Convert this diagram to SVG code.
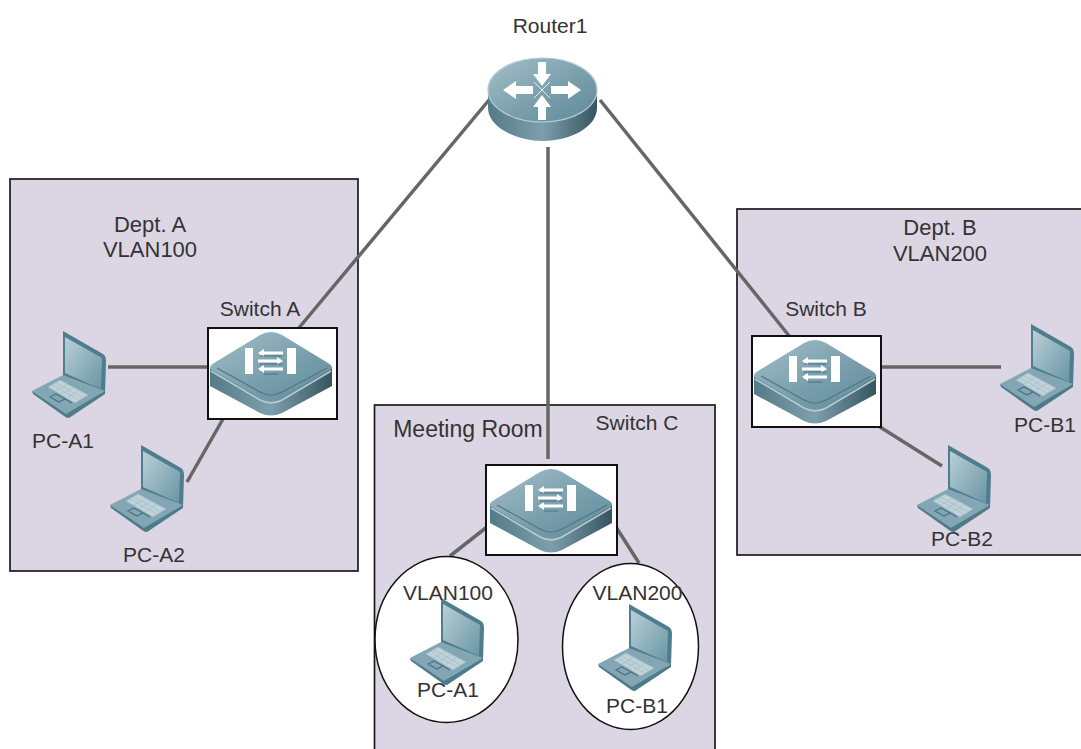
<svg xmlns="http://www.w3.org/2000/svg" width="1081" height="749" viewBox="0 0 1081 749">
<style>
text{font-family:"Liberation Sans",Arial,sans-serif;font-size:21px;fill:#333;text-anchor:middle}
.big{font-size:22px}
.area{fill:#dcd6e4;stroke:#1a1a1a;stroke-width:1.7}
.box{fill:#fff;stroke:#111;stroke-width:2}
.oval{fill:#fff;stroke:#111;stroke-width:1.5}
.link{stroke:#666;stroke-width:3.5;fill:none}
</style>
<defs>
<linearGradient id="top" x1="0" y1="0" x2="1" y2="1"><stop offset="0" stop-color="#a3bfc9"/><stop offset=".55" stop-color="#7a9fac"/><stop offset="1" stop-color="#5d8a99"/></linearGradient>
<linearGradient id="side" x1="0" y1="0" x2="1" y2="0"><stop offset="0" stop-color="#547b89"/><stop offset=".5" stop-color="#7d9fab"/><stop offset="1" stop-color="#35545f"/></linearGradient>
<linearGradient id="scr" x1="0" y1="0" x2="1" y2="1"><stop offset="0" stop-color="#b9d0d8"/><stop offset="1" stop-color="#6a95a4"/></linearGradient>
<symbol id="laptop" width="76" height="88" viewBox="0 0 76 88" overflow="visible">
<path d="M31 0 L71 23 Q74 25 74 30 L73 62 L31 47 Z" fill="#4f7d8d"/>
<path d="M33 6 L70 27 L69 58 L33 42 Z" fill="url(#scr)"/>
<path d="M0 60 L31 44 L73 60 L35 85 Z" fill="#82a6b3"/>
<path d="M0 60 L34 83 L73 60 L73 63 L37 87 Q34 87 32 85 L1 63 Z" fill="#4e7a8a"/>
<path d="M16 56 L28 49 L56 64 L43 72 Z" fill="#bfd2d9" stroke="#a3bbc4" stroke-width=".6"/>
<path d="M20 54 L47 69 M24 52 L51 67 M24 60 L36 53 M30 63 L42 56 M36 66 L48 59" stroke="#9fb8c1" stroke-width=".6" fill="none"/>
<path d="M18 66 L24 63 L33 68 L27 71 Z M27 71 L33 68 L40 72" fill="none" stroke="#4a7282" stroke-width="1.2"/>
</symbol>
<symbol id="switch" width="130" height="90" viewBox="0 0 130 90" overflow="visible">
<path d="M2 40 L2 58 L52 85 Q63 90 74 85 L124 58 L124 40 Z" fill="url(#side)"/>
<path d="M2 41 Q1 38 6 35 L52 7 Q63 1 74 7 L120 35 Q125 38 124 41 L74 70 Q63 76 52 70 Z" fill="url(#top)"/>
<path d="M3 43 L52 72 Q63 78 74 72 L123 43" fill="none" stroke="#b7ccd3" stroke-width="1.5"/>
<path d="M9 40 L52 64 Q63 70 74 64 L119 40" fill="none" stroke="#4d7888" stroke-width="1.2"/>
<rect x="37" y="20" width="8" height="26" fill="#fff"/>
<rect x="79" y="20" width="9" height="26" fill="#fff"/>
<path d="M50 25 L56 21 V23.500 H75 V26.500 H56 V29 Z M75 33 L69 29 V31.500 H50 V34.500 H69 V37 Z M50 41 L56 37 V39.500 H75 V42.500 H56 V45 Z" fill="#fff"/>
<path d="M52 28 H74 M52 36 H74 M56 46 H70" stroke="#47707e" stroke-width="1"/>
</symbol>
</defs>
<rect width="1081" height="749" fill="#fff"/>

<g id="dept-a"><rect class="area" x="10" y="179" width="348" height="392"/><text class="big" x="150" y="232">Dept. A</text><text class="big" x="150" y="257">VLAN100</text></g>
<g id="dept-b"><rect class="area" x="737" y="209" width="350" height="346"/><text class="big" x="940" y="235">Dept. B</text><text class="big" x="940" y="261">VLAN200</text></g>
<g id="meeting-room"><rect class="area" x="374.500" y="405" width="340.500" height="350"/><text x="468" y="437" style="font-size:23px">Meeting Room</text><text x="637" y="430">Switch C</text></g>

<g id="connectors">
<path class="link" d="M489 100 L298 329"/>
<path class="link" d="M548 147 V459"/>
<path class="link" d="M600 100 L790 337"/>
<path class="link" d="M108 367 H210"/>
<path class="link" d="M223 419 L187 482"/>
<path class="link" d="M880 367 H1001"/>
<path class="link" d="M880 427 L942 466"/>
<path class="link" d="M487 527 L450 556"/>
<path class="link" d="M616 527 L639 563"/>
</g>

<g id="router1">
<path d="M488 90 V108 C488 127 516 141 543 141 C570 141 597 127 597 108 V90 Z" fill="url(#side)"/>
<ellipse cx="542.500" cy="90" rx="54.500" ry="32" fill="url(#top)" stroke="#b7ccd3" stroke-width="1.200"/>
<path d="M503 90 L516 81 V86 H533 V94 H516 V99 Z M581 90 L568 81 V86 H551 V94 H568 V99 Z M542 86 L533 74 H538 V62 H546 V74 H551 Z M542 95 L533 107 H538 V120 H546 V107 H551 Z" fill="#fff"/>
<path d="M534 82 L550 98 M550 82 L534 98" stroke="#e4edf0" stroke-width="1"/>
<text x="550" y="33">Router1</text>
</g>

<g id="switch-a"><rect class="box" x="208" y="328" width="129" height="91"/><use href="#switch" x="208" y="328"/><text x="260" y="316">Switch A</text></g>
<g id="switch-b"><rect class="box" x="752" y="336" width="129" height="91"/><use href="#switch" x="752" y="336"/><text x="826" y="316">Switch B</text></g>
<g id="switch-c"><rect class="box" x="486" y="465" width="131" height="90"/><use href="#switch" x="488" y="465"/></g>

<g id="pc-a1"><use href="#laptop" x="32" y="331"/><text x="63" y="448">PC-A1</text></g>
<g id="pc-a2"><use href="#laptop" x="110" y="445"/><text x="154" y="562">PC-A2</text></g>
<g id="pc-b1"><use href="#laptop" x="1000" y="324"/><text x="1045" y="432">PC-B1</text></g>
<g id="pc-b2"><use href="#laptop" x="917" y="445"/><text x="962" y="546">PC-B2</text></g>

<g id="vlan100-group"><ellipse class="oval" cx="446.500" cy="639.500" rx="71.500" ry="83"/><use href="#laptop" x="410" y="598"/><text x="448" y="600">VLAN100</text><text x="448" y="697">PC-A1</text></g>
<g id="vlan200-group"><ellipse class="oval" cx="630.500" cy="646.500" rx="68" ry="83"/><use href="#laptop" x="598" y="604"/><text x="637.500" y="600">VLAN200</text><text x="637" y="713">PC-B1</text></g>
</svg>
